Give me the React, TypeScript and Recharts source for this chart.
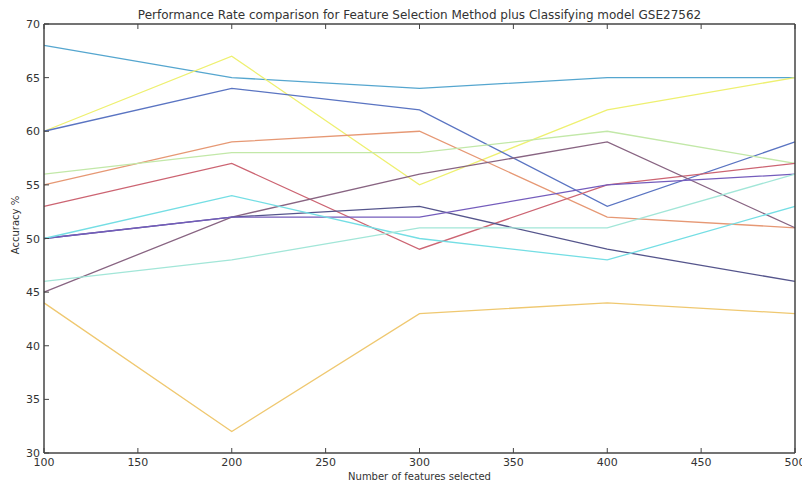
import { LineChart, Line, XAxis, YAxis } from "recharts"

// number of features selected
const featureCounts = [100, 200, 300, 400, 500]

// accuracy % per feature-selection / classifier combination
const steelBlue = [68, 65, 64, 65, 65]
const yellow = [60, 67, 55, 62, 65]
const blue = [60, 64, 62, 53, 59]
const salmon = [55, 59, 60, 52, 51]
const lightGreen = [56, 58, 58, 60, 57]
const red = [53, 57, 49, 55, 57]
const mauve = [45, 52, 56, 59, 51]
const darkPurple = [50, 52, 53, 49, 46]
const purple = [50, 52, 52, 55, 56]
const cyan = [50, 54, 50, 48, 53]
const aqua = [46, 48, 51, 51, 56]
const gold = [44, 32, 43, 44, 43]

const xTicks = [100, 150, 200, 250, 300, 350, 400, 450, 500]
const yTicks = [30, 35, 40, 45, 50, 55, 60, 65, 70]

const series = [
  { key: "steelBlue", values: steelBlue, color: "#55a6cf" },
  { key: "yellow", values: yellow, color: "#eef070" },
  { key: "blue", values: blue, color: "#5a74c2" },
  { key: "salmon", values: salmon, color: "#e69874" },
  { key: "lightGreen", values: lightGreen, color: "#c2e8a8" },
  { key: "red", values: red, color: "#cc6472" },
  { key: "mauve", values: mauve, color: "#886482" },
  { key: "darkPurple", values: darkPurple, color: "#55558c" },
  { key: "purple", values: purple, color: "#745cbc" },
  { key: "cyan", values: cyan, color: "#74dee4" },
  { key: "aqua", values: aqua, color: "#a2e6d8" },
  { key: "gold", values: gold, color: "#efc870" },
]

const rows = featureCounts.map((n, i) => {
  const row: Record<string, number> = { n }
  series.forEach(s => { row[s.key] = s.values[i] })
  return row
})

const TEXT = "#333"
const FRAME = "#444"
const FONT = "DejaVu Sans, sans-serif"

const BottomTick = ({ x, y, payload }: any) => (
  <g>
    <line x1={x} y1={y} x2={x} y2={y - 5} stroke={FRAME} strokeWidth={1} />
    <text x={x} y={y + 13} textAnchor="middle" fontSize={11} fill={TEXT} fontFamily={FONT}>
      {payload.value}
    </text>
  </g>
)

const TopTick = ({ x, y }: any) => (
  <line x1={x} y1={y} x2={x} y2={y + 5} stroke={FRAME} strokeWidth={1} />
)

const LeftTick = ({ x, y, payload }: any) => (
  <g>
    <line x1={x} y1={y} x2={x + 5} y2={y} stroke={FRAME} strokeWidth={1} />
    <text x={x - 4} y={y + 4} textAnchor="end" fontSize={11} fill={TEXT} fontFamily={FONT}>
      {payload.value}
    </text>
  </g>
)

const RightTick = ({ x, y }: any) => (
  <line x1={x} y1={y} x2={x - 5} y2={y} stroke={FRAME} strokeWidth={1} />
)

export default function App() {
  return (
    <div style={{ position: "absolute", left: 0, top: 0, width: 802, height: 484, background: "#fff", fontFamily: FONT }}>
      <div style={{ position: "absolute", top: 8, left: 44, width: 751, textAlign: "center", fontSize: 12, color: TEXT, lineHeight: "14px" }}>
        Performance Rate comparison for Feature Selection Method plus Classifying model GSE27562
      </div>
      <div style={{ position: "absolute", top: 471, left: 44, width: 751, textAlign: "center", fontSize: 10, color: TEXT, lineHeight: "12px" }}>
        Number of features selected
      </div>
      <div
        style={{
          position: "absolute", left: 16, top: 225, fontSize: 10, color: TEXT, whiteSpace: "nowrap",
          transform: "translate(-50%, -50%) rotate(-90deg)", lineHeight: "12px",
        }}
      >
        Accuracy %
      </div>
      <LineChart width={802} height={484} data={rows} margin={{ top: 23, right: 6, bottom: 30, left: 43 }}>
        <XAxis
          xAxisId="bottom"
          dataKey="n"
          type="number"
          domain={[100, 500]}
          ticks={xTicks}
          height={1}
          tickSize={0}
          tickMargin={0}
          tickLine={false}
          tick={<BottomTick />}
          axisLine={{ stroke: FRAME, strokeWidth: 1.5 }}
          interval={0}
        />
        <XAxis
          xAxisId="top"
          orientation="top"
          dataKey="n"
          type="number"
          domain={[100, 500]}
          ticks={xTicks}
          height={1}
          tickSize={0}
          tickMargin={0}
          tickLine={false}
          tick={<TopTick />}
          axisLine={{ stroke: FRAME, strokeWidth: 1.5 }}
          interval={0}
        />
        <YAxis
          yAxisId="left"
          type="number"
          domain={[30, 70]}
          ticks={yTicks}
          width={1}
          tickSize={0}
          tickMargin={0}
          tickLine={false}
          tick={<LeftTick />}
          axisLine={{ stroke: FRAME, strokeWidth: 1.5 }}
          interval={0}
        />
        <YAxis
          yAxisId="right"
          orientation="right"
          type="number"
          domain={[30, 70]}
          ticks={yTicks}
          width={1}
          tickSize={0}
          tickMargin={0}
          tickLine={false}
          tick={<RightTick />}
          axisLine={{ stroke: FRAME, strokeWidth: 1.5 }}
          interval={0}
        />
        {series.map(s => (
          <Line
            key={s.key}
            xAxisId="bottom"
            yAxisId="left"
            dataKey={s.key}
            stroke={s.color}
            strokeWidth={1.3}
            dot={false}
            activeDot={false}
            isAnimationActive={false}
          />
        ))}
      </LineChart>
    </div>
  )
}
